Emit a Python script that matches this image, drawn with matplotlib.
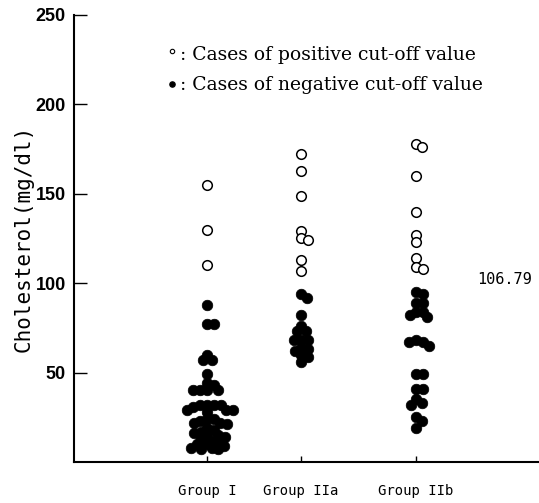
import numpy as np
import matplotlib
matplotlib.use("Agg")
import matplotlib.pyplot as plt

# values (mg/dl)
groups = ["Group I", "Group IIa", "Group IIb"]
group_pos = [1.0, 2.0, 3.22]

pos_I = [155, 130, 110]
neg_I = [88, 77, 77, 60, 57, 57, 49, 44, 43, 40, 40, 40, 40,
         32, 32, 32, 32, 31, 29, 29, 29, 28, 24, 24, 23, 22, 22, 21,
         19, 18, 17, 16, 15, 15, 14, 13, 12, 11, 10, 10, 9, 8, 8, 7, 7]

pos_IIa = [172, 163, 149, 129, 125, 124, 113, 107]
neg_IIa = [94, 92, 82, 76, 73, 73, 68, 68, 68, 64, 63, 62, 60, 59, 56]

pos_IIb = [178, 176, 160, 140, 127, 123, 114, 109, 108]
neg_IIb = [95, 94, 89, 89, 84, 84, 82, 81, 68, 67, 67, 65,
           49, 49, 41, 41, 35, 33, 32, 25, 23, 19]

cutoff = 106.79
yticks = [50, 100, 150, 200, 250]

fig = plt.figure(figsize=(5.39, 5.03), dpi=100)
ax = fig.add_axes([74 / 539, 41 / 503, 465 / 539, 447 / 503])
ax.set_xlim(-0.415, 4.53)
ax.set_ylim(0, 250)

# pixel scale, used only to spread the dots sideways
px_x = 465 / (4.53 + 0.415)
px_y = 447 / 250
dot = 7.0  # packing distance in px (dots overlap a little)


def swarm(values, center):
    order = np.argsort(values)[::-1]
    placed = []
    xs = np.zeros(len(values))
    for i in order:
        y = values[i] * px_y
        cands = [0.0]
        for (px, py) in placed:
            dy = y - py
            if abs(dy) < dot:
                dx = np.sqrt(dot ** 2 - dy ** 2)
                cands += [px + dx, px - dx]
        cands.sort(key=abs)
        for c in cands:
            if all((c - px) ** 2 + (y - py) ** 2 >= dot ** 2 - 1e-6 for px, py in placed):
                break
        placed.append((c, y))
        xs[i] = center + c / px_x
    return xs


for pos, neg, x0 in zip([pos_I, pos_IIa, pos_IIb], [neg_I, neg_IIa, neg_IIb], group_pos):
    vals = np.array(pos + neg, dtype=float)
    xs = swarm(vals, x0)
    n = len(pos)
    ax.scatter(xs[n:], vals[n:], s=58, color="black", edgecolors="black", linewidths=0.5, zorder=3)
    ax.scatter(xs[:n], vals[:n], s=48, facecolors="white", edgecolors="black", linewidths=1.1, zorder=4)

for s in ["top", "right"]:
    ax.spines[s].set_visible(False)
for s in ["left", "bottom"]:
    ax.spines[s].set_linewidth(1.5)

ax.set_yticks(yticks)
ax.set_yticklabels([str(v) for v in yticks], fontfamily="Liberation Sans", fontweight="bold", fontsize=13)
ax.tick_params(axis="y", direction="in", length=9.5, width=1, pad=6)
ax.set_xticks(group_pos)
ax.set_xticklabels(groups, fontfamily="DejaVu Sans Mono", fontsize=10)
ax.tick_params(axis="x", direction="in", length=4, width=1, pad=16)

ax.set_ylabel("Cholesterol(mg/dl)", fontfamily="DejaVu Sans Mono", fontsize=15, labelpad=1)

ax.text(0.925, cutoff - 5, "106.79", transform=ax.get_yaxis_transform(), ha="center", va="center",
        fontfamily="DejaVu Sans Mono", fontsize=11)

# key in the upper part of the plot
ax.scatter([0.211], [0.92], s=10, facecolors="white", edgecolors="black", linewidths=0.8,
           transform=ax.transAxes, clip_on=False)
ax.scatter([0.211], [0.846], s=14, color="black", transform=ax.transAxes, clip_on=False)
ax.text(0.228, 0.9105, ": Cases of positive cut-off value", transform=ax.transAxes, va="center",
        fontfamily="DejaVu Serif", fontsize=13.5)
ax.text(0.228, 0.843, ": Cases of negative cut-off value", transform=ax.transAxes, va="center",
        fontfamily="DejaVu Serif", fontsize=13.5)

fig.savefig("out.png", dpi=100)
